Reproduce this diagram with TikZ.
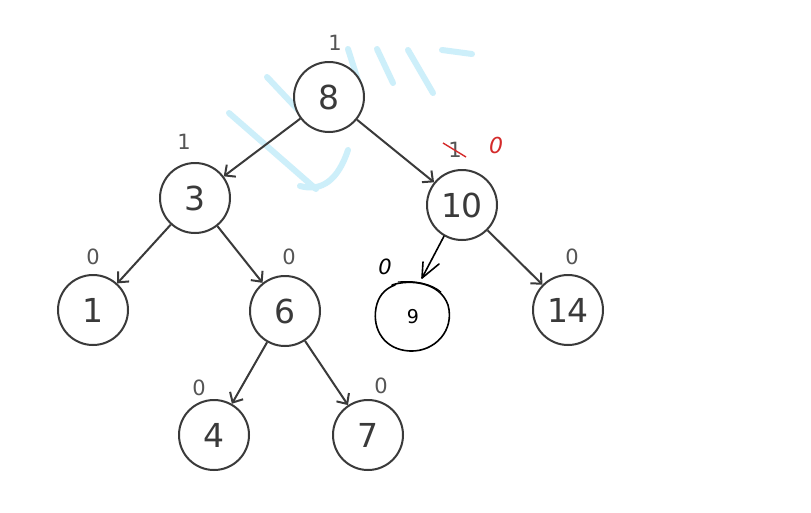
\documentclass[tikz,border=0pt]{standalone}
\usepackage{fontspec}
\setmainfont{DejaVu Sans}
\usetikzlibrary{arrows.meta}
\definecolor{ink}{HTML}{3A3A3A}
\definecolor{lab}{HTML}{555555}
\definecolor{wm}{HTML}{CDEFFA}
\definecolor{redpen}{HTML}{D42A2A}
\tikzset{
  tnode/.style={circle, draw=ink, fill=white, line width=2pt, minimum size=70pt, inner sep=0pt,
    text=ink, font=\fontsize{33}{35}\selectfont},
  hnode/.style={circle, minimum size=70pt, inner sep=0pt},
  bf/.style={text=lab, font=\fontsize{21}{23}\selectfont, inner sep=0pt},
  arr/.style={draw=ink, line width=2pt, -{Straight Barb[length=8pt,width=15pt,line width=2pt]}},
  wmstroke/.style={draw=wm, line width=6pt, line cap=round, line join=round},
  pen/.style={draw=black, line width=1.6pt, line cap=round, line join=round}
}
\begin{document}
\begin{tikzpicture}[x=1pt,y=-1pt]
\useasboundingbox (0,0) rectangle (811,512);
\fill[white] (0,0) rectangle (811,512);
% watermark strokes
\draw[wmstroke] (229,113) -- (316,189);
\draw[wmstroke] (267,77) -- (300,112);
\draw[wmstroke] (300,186) .. controls (322,192) and (338,180) .. (348,150);
\draw[wmstroke] (348,49) -- (362,93);
\draw[wmstroke] (377,49) -- (393,83);
\draw[wmstroke] (408,50) -- (433,93);
\draw[wmstroke] (442,50) -- (472,54);
% nodes
\node[tnode] (n8) at (329,97) {8};
\node[tnode] (n3) at (195,198) {3};
\node[tnode] (n10) at (462,205) {10};
\node[tnode] (n1) at (93,310) {1};
\node[tnode] (n6) at (285,311) {6};
\node[hnode] (n9) at (413,317) {\fontsize{19}{20}\selectfont 9};
\node[tnode] (n14) at (568,310) {14};
\node[tnode] (n4) at (214,435) {4};
\node[tnode] (n7) at (368,435) {7};
% hand-drawn circle around 9
\draw[pen] (392,285) .. controls (410,279) and (440,282) .. (448,305)
  .. controls (455,330) and (435,352) .. (410,351)
  .. controls (385,350) and (372,330) .. (376,308)
  .. controls (378,297) and (384,289) .. (395,285);
\draw[pen, line width=1pt] (398,282) .. controls (415,280) and (432,284) .. (441,292);
% balance factors
\node[bf] (b8) at (335,43) {1};
\node[bf] (b3) at (184,142) {1};
\node[bf] (b10) at (455,150) {1};
\draw[redpen, line width=1.4pt] (443,143) -- (466,157);
\node[text=redpen, font=\fontsize{22}{24}\selectfont\itshape, inner sep=0pt] (r10) at (496,145) {0};
\node[bf] (b1) at (93,257) {0};
\node[bf] (b6) at (289,257) {0};
\node[font=\fontsize{21}{22}\selectfont\itshape, inner sep=0pt] (b9) at (385,267) {0};
\node[bf] (b14) at (572,257) {0};
\node[bf] (b4) at (199,388) {0};
\node[bf] (b7) at (381,386) {0};
% edges
\draw[arr] (n8) -- (n3);
\draw[arr] (n8) -- (n10);
\draw[arr] (n3) -- (n1);
\draw[arr] (n3) -- (n6);
\draw[arr] (n10) -- (n14);
\draw[arr] (n6) -- (n4);
\draw[arr] (n6) -- (n7);
% hand-drawn edge 10 -> 9
\coordinate (tip9) at (422,278);
\draw[pen] (n10.240) -- (tip9);
\draw[pen] (423,262) -- (tip9) -- (439,264);
\end{tikzpicture}
\end{document}
